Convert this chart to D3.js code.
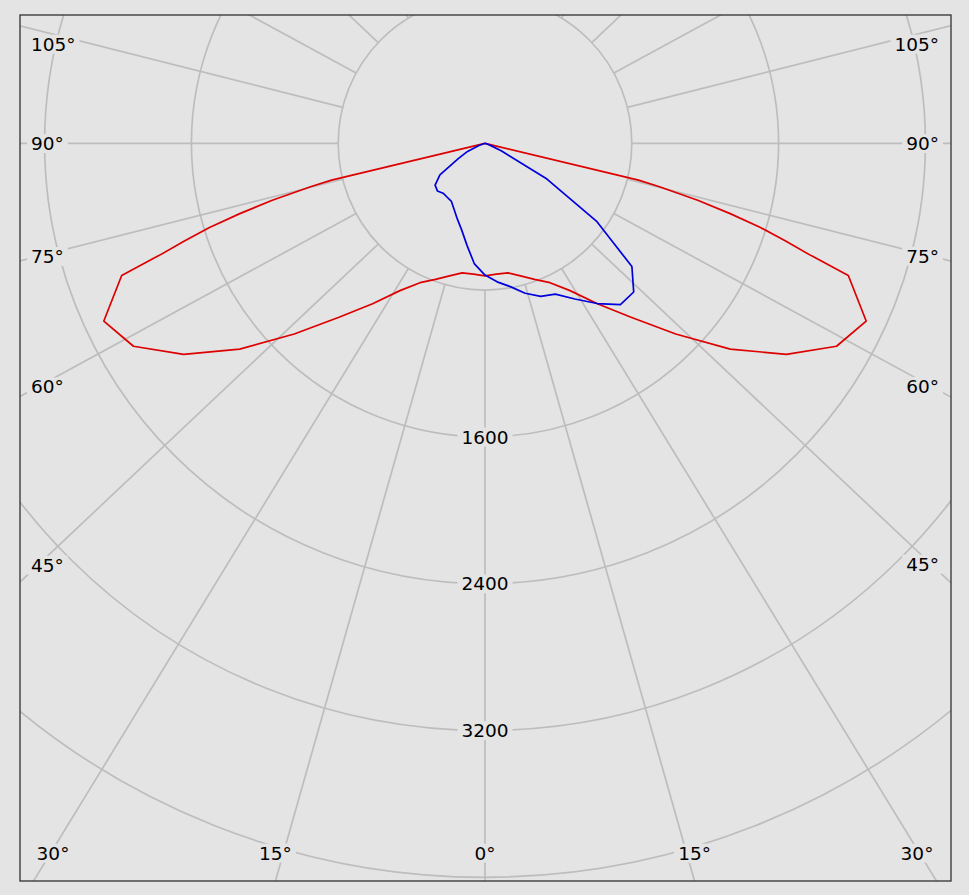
<!DOCTYPE html>
<html><head><meta charset="utf-8">
<script src="https://cdn.jsdelivr.net/npm/d3@7"></script>
<style>html,body{margin:0;padding:0;background:#e4e4e4;} svg{display:block;}</style>
</head><body><svg id="chart" width="969" height="895"></svg>
<script>
// ---- data ----
const ringValues = [800, 1600, 2400, 3200, 4000];
const ringLabelValues = [1600, 2400, 3200];
const rayAngles = d3.range(0, 181, 15);
const angleLabelValues = [0, 15, 30, 45, 60, 75, 90, 105];

// red curve (symmetric plane), angle from nadir in degrees, value in cd
const redAngles = [0, 5, 10, 15, 20, 25, 30, 35, 40, 45, 50, 55, 60, 65, 70, 71, 72, 73, 74, 75, 76, 76.5, 80, 90];
const redValues = [722, 716, 717, 748, 789, 838, 927, 1068, 1238, 1470, 1745, 2005, 2212, 2292, 2107, 1880, 1720, 1570, 1390, 1200, 980, 860, 0, 0];

// blue curve, right half (C0) and left half (C180)
const blueAnglesC0 = [0, 5, 10, 15, 20, 25, 30, 35, 40, 45, 50, 55, 60, 65, 70, 75, 90];
const blueValuesC0 = [718, 758, 793, 846, 888, 907, 980, 1066, 1148, 1146, 1045, 745, 390, 100, 25, 0, 0];
const blueAnglesC180 = [0, 5, 10, 15, 20, 25, 30, 35, 40, 45, 50, 55, 60, 65, 70, 75, 90];
const blueValuesC180 = [718, 660, 565, 490, 440, 398, 366, 359, 355, 367, 355, 300, 170, 105, 35, 0, 0];

// ---- layout ----
const W = 969, H = 895;
const plot = {x: 20, y: 15, w: 931, h: 866};
const cx = 485, cy = 143.3;
const K = 1.06; // horizontal stretch of the angle rays
const bg = "#e4e4e4";

const r = d3.scaleLinear().domain([0, 800]).range([0, 146.8]);
const svg = d3.select("#chart");
svg.append("rect").attr("width", W).attr("height", H).attr("fill", bg);

const defs = svg.append("defs");
defs.append("clipPath").attr("id", "clip").append("rect")
  .attr("x", plot.x).attr("y", plot.y).attr("width", plot.w).attr("height", plot.h);

const g = svg.append("g").attr("clip-path", "url(#clip)");
const center = g.append("g").attr("transform", `translate(${cx},${cy})`);

// rings
center.selectAll("circle.ring").data(ringValues).join("circle")
  .attr("class", "ring").attr("r", d => r(d))
  .attr("fill", "none").attr("stroke", "#bdbdbd").attr("stroke-width", 1.7);

// rays (both sides)
const rayData = [];
rayAngles.forEach(a => {
  rayData.push({a, s: 1});
  if (a !== 0 && a !== 180) rayData.push({a, s: -1});
});
function dir(a, s) {
  const t = a * Math.PI / 180;
  const dx = s * K * Math.sin(t), dy = Math.cos(t);
  const n = Math.hypot(dx, dy);
  return [dx / n, dy / n];
}
center.selectAll("line.ray").data(rayData).join("line")
  .attr("class", "ray")
  .attr("x1", d => dir(d.a, d.s)[0] * r(800))
  .attr("y1", d => dir(d.a, d.s)[1] * r(800))
  .attr("x2", d => dir(d.a, d.s)[0] * 2000)
  .attr("y2", d => dir(d.a, d.s)[1] * 2000)
  .attr("stroke", "#bdbdbd").attr("stroke-width", 1.7);

// curves
function toPoints(anglesR, valuesR, anglesL, valuesL) {
  const pts = [];
  for (let i = anglesL.length - 1; i > 0; i--) pts.push({ang: Math.PI + anglesL[i] * Math.PI / 180, v: valuesL[i]});
  for (let i = 0; i < anglesR.length; i++) pts.push({ang: Math.PI - anglesR[i] * Math.PI / 180, v: valuesR[i]});
  return pts;
}
const radial = d3.lineRadial().angle(d => d.ang).radius(d => r(d.v));

center.append("path")
  .datum(toPoints(redAngles, redValues, redAngles, redValues))
  .attr("d", radial).attr("fill", "none")
  .attr("stroke", "#dd0000").attr("stroke-width", 1.7).attr("stroke-linejoin", "round");

center.append("path")
  .datum(toPoints(blueAnglesC0, blueValuesC0, blueAnglesC180, blueValuesC180))
  .attr("d", radial).attr("fill", "none")
  .attr("stroke", "#0000dd").attr("stroke-width", 1.7).attr("stroke-linejoin", "round");

// labels
const fontSize = 18.5;
const labelG = g.append("g")
  .attr("font-family", "'DejaVu Sans', Verdana, sans-serif")
  .attr("font-size", fontSize).attr("fill", "#000");

function addLabel(x, y, text, anchor) {
  const grp = labelG.append("g");
  const rect = grp.append("rect").attr("fill", bg);
  const t = grp.append("text").attr("x", x).attr("y", y).attr("dy", "0.36em")
    .attr("text-anchor", anchor).text(text);
  const b = t.node().getBBox();
  rect.attr("x", b.x - 4).attr("y", b.y + 1).attr("width", b.width + 8).attr("height", b.height - 2);
}

// ring labels
ringLabelValues.forEach(v => addLabel(cx, cy + r(v), String(v), "middle"));

// angle labels
const leftX = 31, rightX = 939, sideProbe = 38, topMin = 44, bottomY = 853;
angleLabelValues.forEach(a => {
  [-1, 1].forEach(s => {
    if (a === 0 && s === -1) return;
    const [dx, dy] = dir(a, s);
    const txt = a + "°";
    if (a === 0) { addLabel(cx, bottomY, txt, "middle"); return; }
    if (a >= 45) {
      const px = s < 0 ? sideProbe : W - sideProbe;
      const t = (px - cx) / dx;
      let y = cy + t * dy;
      y = Math.max(topMin, Math.min(bottomY, y));
      addLabel(s < 0 ? leftX : rightX, y, txt, s < 0 ? "start" : "end");
    } else {
      const t = (plot.y + plot.h - cy) / dy;
      let x = cx + t * dx;
      x = Math.max(53, Math.min(917, x));
      addLabel(x, bottomY, txt, "middle");
    }
  });
});

// border
svg.append("rect").attr("x", plot.x).attr("y", plot.y).attr("width", plot.w).attr("height", plot.h)
  .attr("fill", "none").attr("stroke", "#303030").attr("stroke-width", 1.3);
</script></body></html>
